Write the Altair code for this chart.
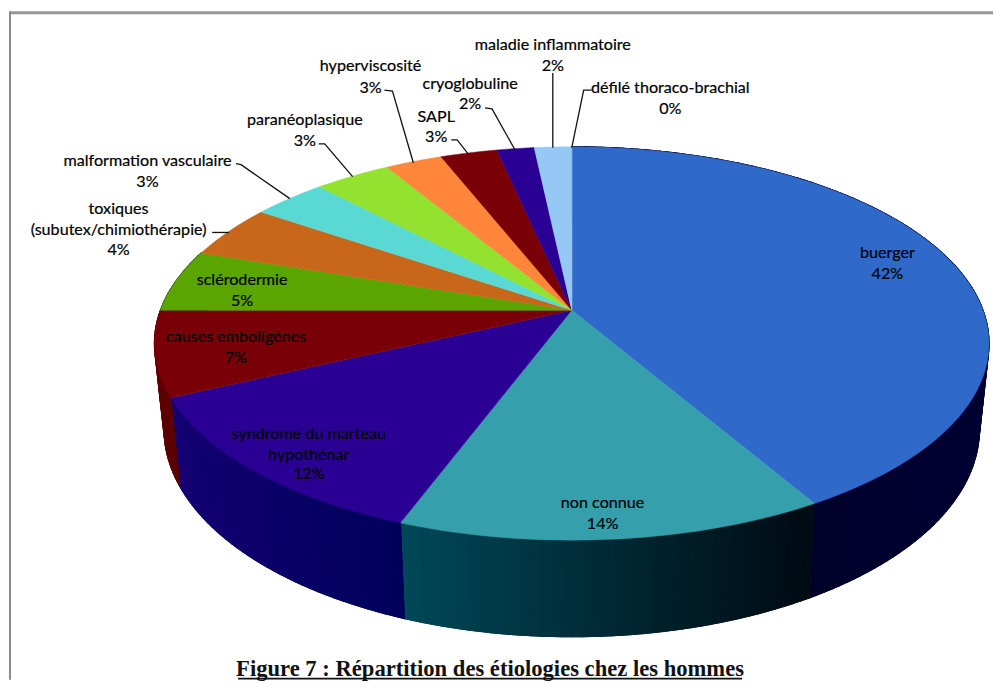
import math
import altair as alt

# ---- data -----------------------------------------------------------------
categories = ["buerger", "non connue", "syndrome du marteau hypothénar", "causes emboligènes",
              "sclérodermie", "toxiques (subutex/chimiothérapie)", "malformation vasculaire",
              "paranéoplasique", "hyperviscosité", "SAPL", "cryoglobuline",
              "maladie inflammatoire", "défilé thoraco-brachial"]
shares = [41.6, 14.1, 12.3, 7.0, 5.1, 4.4, 3.4, 3.5, 2.6, 2.6, 1.7, 1.7, 0.0]
shown_percent = ["42%", "14%", "12%", "7%", "5%", "4%", "3%", "3%", "3%", "3%", "2%", "2%", "0%"]
title_text = "Figure 7 : Répartition des étiologies chez les hommes"

# ---- styles ---------------------------------------------------------------
top_colors = ["#2F6ACB", "#35A0AB", "#2A0094", "#7A0008", "#5BA500", "#C8661A", "#5AD9D4",
              "#92E22F", "#FF863A", "#7A0008", "#2A0094", "#95C8F4", "#95C8F4"]
wall_right = ["#00001E", "#000A12", "#00005A", "#5A0000", "#2A5000", "#603000", "#206060",
              "#406010", "#804010", "#3A0000", "#100050", "#406080", "#406080"]
wall_left = ["#00002A", "#004858", "#140072", "#5C0000", "#2A5000", "#603000", "#206060",
             "#406010", "#804010", "#3A0000", "#100050", "#406080", "#406080"]

# ---- perspective layout of the disc (image pixels) -------------------------
W, H = 987, 673
OFF = 8
CX, CY = 572.0, 310.0
A, B, P = 412.9, 191.8, 0.1696
BOT_SX, BOT_SY, BOT_CY = 0.977, 1.056, 394.0


def top_pt(theta):
    X, Y = math.sin(theta), math.cos(theta)
    w = 1 + P * Y
    return (CX + A * X / w, CY - B * Y / w)


def bot_pt(theta):
    x, y = top_pt(theta)
    return (CX + BOT_SX * (x - CX), BOT_CY + BOT_SY * (y - CY))


def s(pt):
    return [round(pt[0] - OFF, 2), round(pt[1] - OFF, 2)]


def mix(c1, c2, t):
    a = [int(c1[i:i + 2], 16) for i in (1, 3, 5)]
    b = [int(c2[i:i + 2], 16) for i in (1, 3, 5)]
    return "#" + "".join(f"{round(a[i] + (b[i] - a[i]) * t):02x}" for i in range(3))


def feature(ring, color):
    return {"type": "Feature", "properties": {"color": color},
            "geometry": {"type": "Polygon", "coordinates": [ring + [ring[0]]]}}


LO, HI = math.radians(60), math.radians(285)
tops, walls = [], []
start = 0.0
for share, ctop, cr, cl in zip(shares, top_colors, wall_right, wall_left):
    end = start + share / 100 * 2 * math.pi
    n = max(2, int(share * 3))
    angles = [start + (end - start) * i / n for i in range(n + 1)]
    tops.append(feature([s((CX, CY))] + [s(top_pt(a)) for a in angles], ctop))
    x0, x1 = top_pt(start)[0], top_pt(end)[0]
    if LO < end and start < HI and share > 0:
        walls.append(feature([s(top_pt(a)) for a in angles] + [s(bot_pt(a)) for a in reversed(angles)],
                             mix(cr, cl, 0.5)))
        for a0, a1 in zip(angles[:-1], angles[1:]):
            xm = top_pt((a0 + a1) / 2)[0]
            t = (x0 - xm) / (x0 - x1) if abs(x0 - x1) > 1e-6 else 0
            walls.append(feature([s(top_pt(a0)), s(top_pt(a1)), s(bot_pt(a1)), s(bot_pt(a0))],
                                 mix(cr, cl, t)))
    start = end

# ---- label layout (image pixels) --------------------------------------------
label_lines = ["buerger", "42%", "non connue", "14%", "syndrome du marteau", "hypothénar", "12%",
               "causes emboligènes", "7%", "sclérodermie", "5%", "toxiques",
               "(subutex/chimiothérapie)", "4%", "malformation vasculaire", "3%",
               "paranéoplasique", "3%", "hyperviscosité", "3%", "SAPL", "3%", "cryoglobuline",
               "2%", "maladie inflammatoire", "2%", "défilé thoraco-brachial", "0%"]
label_x = [889, 889, 603, 603, 308, 308, 308, 235, 235, 241, 241, 117, 117, 117, 146, 146,
           304, 304, 370, 370, 436, 436, 470, 470, 553, 553, 671, 671]
label_y = [253, 274, 504, 525, 434, 455, 475, 337, 358, 280, 301, 208, 230, 250, 160, 181,
           119, 140, 65, 87, 116, 136, 83, 103, 44, 65, 87, 108]

leaders = [
    [(235, 163), (240, 164), (289, 198)],
    [(211, 232), (228, 232)],
    [(318, 143), (324, 143), (352, 176)],
    [(384, 89), (392, 90), (413, 162)],
    [(451, 139), (457, 139), (468, 153)],
    [(485, 107), (492, 108), (515, 149)],
    [(553, 72), (553, 147)],
    [(592, 89), (584, 89), (572, 147)],
]
leader_rows = [{"g": i, "o": j, "x": p[0] - OFF, "y": p[1] - OFF}
               for i, seg in enumerate(leaders) for j, p in enumerate(seg)]

text_rows = [{"t": t, "x": x - OFF, "y": y - OFF} for t, x, y in zip(label_lines, label_x, label_y)]


# ---- marks ------------------------------------------------------------------
def shapes(features, sw):
    return alt.Chart(alt.Data(values=features)).mark_geoshape(strokeWidth=sw, opacity=1).encode(
        fill=alt.Fill("properties.color:N", scale=None),
        stroke=alt.Stroke("properties.color:N", scale=None),
    ).project(type="identity", scale=1, translate=[0, 0])


frame_top = alt.Chart(alt.Data(values=[{"a": 0}])).mark_rule(color="#979797", strokeWidth=3).encode(
    x=alt.value(0), x2=alt.value(W), y=alt.value(3.5))
frame_left = alt.Chart(alt.Data(values=[{"a": 0}])).mark_rule(color="#8a8a8a", strokeWidth=2).encode(
    x=alt.value(0), y=alt.value(2), y2=alt.value(H))

leader_chart = alt.Chart(alt.Data(values=leader_rows)).mark_line(color="#111111", strokeWidth=1.3).encode(
    x=alt.X("x:Q", scale=None, axis=None), y=alt.Y("y:Q", scale=None, axis=None),
    detail="g:N", order="o:Q")

text_chart = alt.Chart(alt.Data(values=text_rows)).mark_text(
    font="Lato", fontSize=16.2, color="#000000", stroke="#000000", strokeWidth=0.2,
    align="center", baseline="middle").encode(
    x=alt.X("x:Q", scale=None, axis=None), y=alt.Y("y:Q", scale=None, axis=None), text="t:N")

caption = alt.Chart(alt.Data(values=[{"t": title_text, "x": 490 - OFF, "y": 677 - OFF}])).mark_text(
    font="Liberation Serif", fontWeight="bold", fontSize=22.7, color="#111111", align="center",
    baseline="alphabetic").encode(
    x=alt.X("x:Q", scale=None, axis=None), y=alt.Y("y:Q", scale=None, axis=None), text="t:N")

underline = alt.Chart(alt.Data(values=[{"a": 0}])).mark_rule(color="#111111", strokeWidth=1.6).encode(
    x=alt.value(237 - OFF), x2=alt.value(743 - OFF), y=alt.value(680 - OFF))

chart = alt.layer(frame_top, frame_left, shapes(walls, 1.2), shapes(tops, 0.5), leader_chart, text_chart,
                  caption, underline).properties(
    width=W, height=H, padding=0, background="white"
).configure_view(stroke=None)

chart.save("out.html", embed_options={"renderer": "svg", "actions": False})
